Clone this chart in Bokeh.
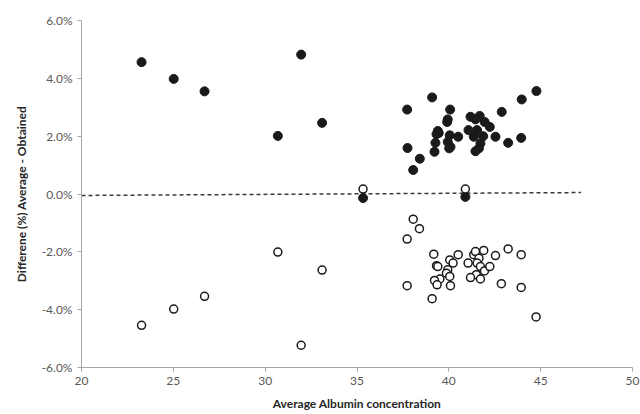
from bokeh.plotting import figure
from bokeh.models import NumeralTickFormatter, FixedTicker, Range1d
from bokeh.embed import file_html
from bokeh.resources import INLINE

# Filled markers (method A vs average)
filled_x = [23.27, 25.02, 26.70, 30.69, 31.96, 33.10,
            44.77, 43.97, 42.88, 39.09, 37.73, 40.07, 39.94, 39.91, 41.18, 41.68,
            41.95, 42.23, 41.45, 39.40, 39.33, 40.05, 40.51, 41.07, 41.54, 41.87,
            41.36, 42.54, 43.94, 43.23, 39.27, 39.94, 40.09, 40.02, 41.72, 41.64,
            41.45, 39.22, 37.75, 38.42, 38.06, 39.45, 35.33, 40.90]
filled_y = [4.56, 3.98, 3.55, 2.01, 4.82, 2.46,
            3.56, 3.27, 2.84, 3.34, 2.92, 2.92, 2.58, 2.49, 2.67, 2.70,
            2.49, 2.32, 2.58, 2.18, 2.07, 2.03, 1.98, 2.21, 2.21, 2.00,
            1.98, 1.98, 1.94, 1.77, 1.77, 1.80, 1.63, 1.58, 1.75, 1.58,
            1.48, 1.46, 1.59, 1.22, 0.83, 2.11, -0.14, -0.10]

# Open markers (method B vs average)
open_x = [23.27, 25.02, 26.70, 30.69, 33.10, 31.96,
          38.06, 38.40, 37.73, 39.18, 39.33, 39.40, 40.05, 40.23, 40.51, 39.94,
          39.87, 40.05, 39.51, 39.22, 39.36, 40.09, 37.73, 39.09, 41.05, 41.36,
          41.45, 41.90, 41.64, 41.54, 41.72, 41.94, 42.23, 41.50, 41.18, 41.72,
          42.54, 43.23, 43.94, 42.86, 43.94, 44.75, 35.33, 40.90]
open_y = [-4.54, -3.98, -3.54, -2.01, -2.63, -5.23,
          -0.87, -1.20, -1.56, -2.08, -2.48, -2.51, -2.28, -2.39, -2.10, -2.62,
          -2.74, -2.85, -2.94, -2.99, -3.14, -3.17, -3.17, -3.62, -2.39, -2.10,
          -1.99, -1.95, -2.22, -2.39, -2.51, -2.66, -2.51, -2.79, -2.89, -2.94,
          -2.13, -1.90, -2.10, -3.10, -3.23, -4.25, 0.17, 0.17]

# Mean-difference trend line
trend_x = [20.0, 47.2]
trend_y = [-0.05, 0.05]

x_ticks = [20, 25, 30, 35, 40, 45, 50]
y_ticks = [-0.06, -0.04, -0.02, 0.0, 0.02, 0.04, 0.06]

p = figure(width=640, height=414, output_backend="svg", toolbar_location=None,
           x_range=Range1d(20, 50), y_range=Range1d(-0.06, 0.06))
p.min_border_left = 81
p.min_border_right = 8
p.min_border_top = 20
p.min_border_bottom = 47
p.outline_line_color = None
p.xgrid.visible = False
p.ygrid.visible = False
p.background_fill_color = "white"

p.line([x for x in trend_x], [y / 100 for y in trend_y], line_color="#3a3a3a",
       line_width=1.5, line_dash="4 3")

p.scatter([x for x in filled_x], [y / 100 for y in filled_y], size=9,
          fill_color="#1a1a1a", line_color="#1a1a1a", line_width=1)
p.scatter([x for x in open_x], [y / 100 for y in open_y], size=8,
          fill_color="white", line_color="#1a1a1a", line_width=1.5)

font = "Lato"
for ax in (p.xaxis[0], p.yaxis[0]):
    ax.axis_line_color = "#a6a6a6"
    ax.major_tick_line_color = "#a6a6a6"
    ax.minor_tick_line_color = None
    ax.major_tick_in = 0
    ax.major_tick_out = 4
    ax.major_label_text_font = font
    ax.major_label_text_font_size = "12px"
    ax.major_label_text_color = "#595959"
    ax.axis_label_text_font = font
    ax.axis_label_text_font_size = "12px"
    ax.axis_label_text_font_style = "bold"
    ax.axis_label_text_color = "#262626"

p.xaxis[0].ticker = FixedTicker(ticks=x_ticks)
p.yaxis[0].ticker = FixedTicker(ticks=y_ticks)
p.yaxis[0].formatter = NumeralTickFormatter(format="0.0%")
p.xaxis[0].axis_label = "Average Albumin concentration"
p.yaxis[0].axis_label = "Differene (%) Average - Obtained"
p.xaxis[0].axis_label_standoff = 8
p.yaxis[0].axis_label_standoff = 10

open("out.html", "w").write(file_html(p, INLINE))
